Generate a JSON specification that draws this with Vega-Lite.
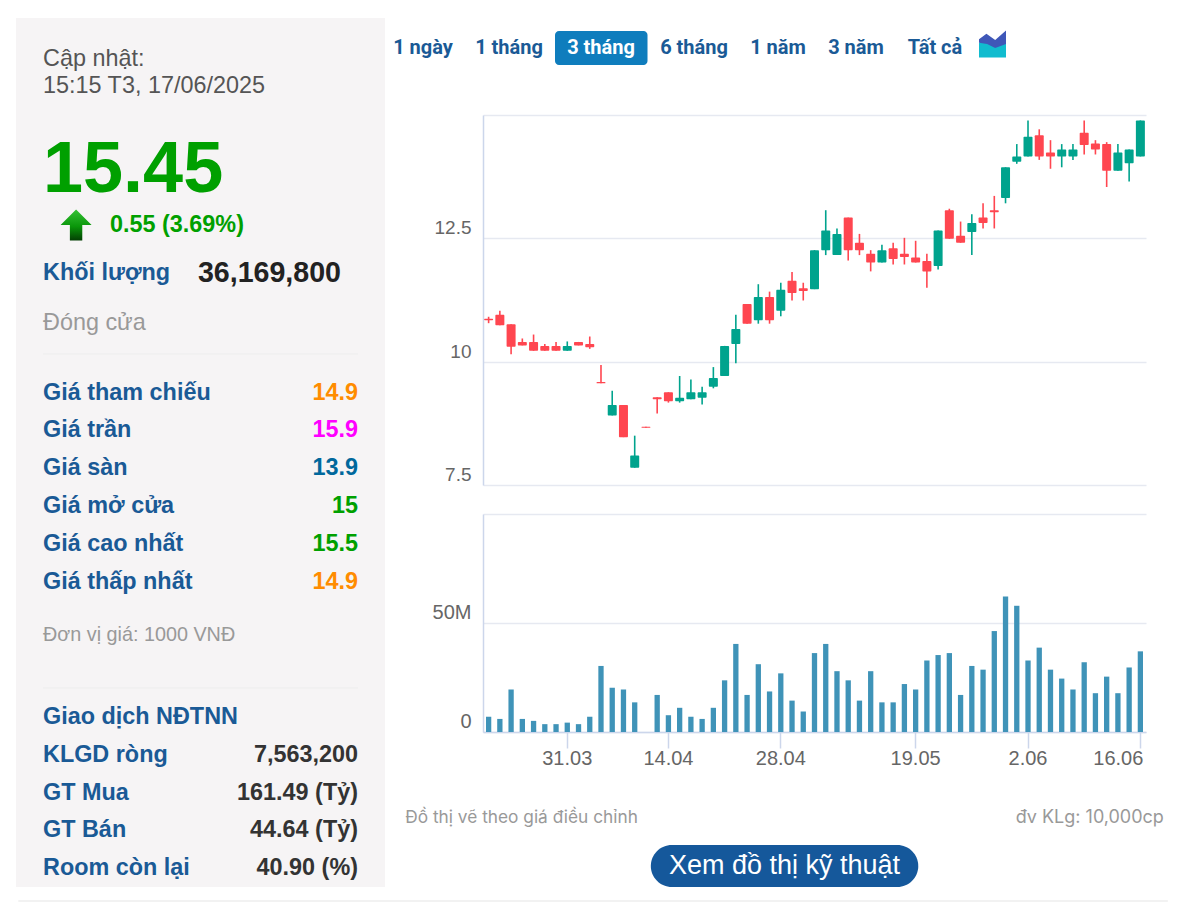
{
"$schema":"https://vega.github.io/schema/vega-lite/v6.json",
"padding":{"left":16,"top":18,"right":0,"bottom":0},
"background":"white",
"bounds":"flush",
"spacing":98,
"config":{"view":{"stroke":null},"font":"Liberation Sans"},
"datasets":{
"candles":[
{"d":"20.03","o":10.87,"c":10.84,"h":10.91,"l":10.78,"v":7.0},
{"d":"21.03","o":10.95,"c":10.74,"h":11.03,"l":10.74,"v":6.0},
{"d":"24.03","o":10.76,"c":10.30,"h":10.76,"l":10.15,"v":19.5},
{"d":"25.03","o":10.40,"c":10.33,"h":10.47,"l":10.33,"v":6.0},
{"d":"26.03","o":10.40,"c":10.22,"h":10.55,"l":10.22,"v":5.1},
{"d":"27.03","o":10.32,"c":10.22,"h":10.36,"l":10.22,"v":3.6},
{"d":"28.03","o":10.32,"c":10.22,"h":10.40,"l":10.22,"v":3.6},
{"d":"31.03","o":10.22,"c":10.32,"h":10.41,"l":10.22,"v":4.3},
{"d":"1.04","o":10.40,"c":10.33,"h":10.40,"l":10.33,"v":3.6},
{"d":"2.04","o":10.36,"c":10.29,"h":10.51,"l":10.26,"v":7.0},
{"d":"3.04","o":9.59,"c":9.56,"h":9.93,"l":9.56,"v":30.3},
{"d":"4.04","o":8.91,"c":9.12,"h":9.41,"l":8.91,"v":20.3},
{"d":"8.04","o":9.12,"c":8.47,"h":9.12,"l":8.47,"v":19.5},
{"d":"9.04","o":7.85,"c":8.10,"h":8.50,"l":7.85,"v":13.6},
{"d":"10.04","o":8.68,"c":8.66,"h":8.68,"l":8.66,"v":0},
{"d":"11.04","o":9.28,"c":9.24,"h":9.28,"l":8.95,"v":17.0},
{"d":"14.04","o":9.38,"c":9.20,"h":9.38,"l":9.17,"v":7.7},
{"d":"15.04","o":9.20,"c":9.27,"h":9.71,"l":9.17,"v":11.1},
{"d":"16.04","o":9.24,"c":9.38,"h":9.64,"l":9.24,"v":7.0},
{"d":"17.04","o":9.27,"c":9.38,"h":9.49,"l":9.13,"v":6.0},
{"d":"18.04","o":9.49,"c":9.67,"h":9.89,"l":9.46,"v":11.1},
{"d":"21.04","o":9.71,"c":10.32,"h":10.32,"l":9.71,"v":23.7},
{"d":"22.04","o":10.36,"c":10.66,"h":10.95,"l":9.97,"v":40.4},
{"d":"23.04","o":11.17,"c":10.77,"h":11.17,"l":10.77,"v":17.0},
{"d":"24.04","o":10.84,"c":11.31,"h":11.57,"l":10.77,"v":31.1},
{"d":"25.04","o":11.31,"c":10.84,"h":11.42,"l":10.77,"v":18.6},
{"d":"28.04","o":11.03,"c":11.46,"h":11.60,"l":10.92,"v":26.9},
{"d":"29.04","o":11.64,"c":11.39,"h":11.82,"l":11.24,"v":14.4},
{"d":"5.05","o":11.49,"c":11.43,"h":11.60,"l":11.24,"v":9.4},
{"d":"6.05","o":11.47,"c":12.26,"h":12.26,"l":11.47,"v":36.2},
{"d":"7.05","o":12.26,"c":12.66,"h":13.07,"l":12.16,"v":40.4},
{"d":"8.05","o":12.16,"c":12.59,"h":12.70,"l":12.16,"v":27.9},
{"d":"9.05","o":12.92,"c":12.26,"h":12.92,"l":12.05,"v":23.7},
{"d":"12.05","o":12.41,"c":12.26,"h":12.59,"l":12.16,"v":14.4},
{"d":"13.05","o":12.19,"c":12.01,"h":12.26,"l":11.83,"v":27.9},
{"d":"14.05","o":12.01,"c":12.26,"h":12.37,"l":12.01,"v":13.6},
{"d":"15.05","o":12.30,"c":12.08,"h":12.41,"l":11.97,"v":13.6},
{"d":"16.05","o":12.19,"c":12.12,"h":12.51,"l":11.97,"v":22.0},
{"d":"19.05","o":12.11,"c":12.01,"h":12.45,"l":12.01,"v":19.5},
{"d":"20.05","o":12.04,"c":11.83,"h":12.19,"l":11.50,"v":32.8},
{"d":"21.05","o":11.94,"c":12.66,"h":12.66,"l":11.87,"v":35.3},
{"d":"22.05","o":13.07,"c":12.49,"h":13.10,"l":12.49,"v":36.2},
{"d":"23.05","o":12.55,"c":12.41,"h":12.84,"l":12.41,"v":17.0},
{"d":"26.05","o":12.63,"c":12.81,"h":12.99,"l":12.16,"v":30.3},
{"d":"27.05","o":12.92,"c":12.81,"h":13.21,"l":12.70,"v":28.6},
{"d":"28.05","o":13.07,"c":13.03,"h":13.36,"l":12.70,"v":46.3},
{"d":"29.05","o":13.32,"c":13.94,"h":13.94,"l":13.21,"v":62.1},
{"d":"30.05","o":14.05,"c":14.16,"h":14.41,"l":14.01,"v":57.9},
{"d":"2.06","o":14.16,"c":14.56,"h":14.89,"l":14.16,"v":32.8},
{"d":"3.06","o":14.59,"c":14.16,"h":14.71,"l":14.09,"v":38.7},
{"d":"4.06","o":14.24,"c":14.16,"h":14.49,"l":13.91,"v":28.6},
{"d":"5.06","o":14.16,"c":14.30,"h":14.41,"l":13.94,"v":24.5},
{"d":"6.06","o":14.16,"c":14.30,"h":14.41,"l":14.09,"v":19.5},
{"d":"9.06","o":14.64,"c":14.39,"h":14.89,"l":14.20,"v":32.0},
{"d":"10.06","o":14.42,"c":14.30,"h":14.49,"l":14.20,"v":17.8},
{"d":"11.06","o":14.41,"c":13.87,"h":14.45,"l":13.54,"v":25.4},
{"d":"12.06","o":13.87,"c":14.24,"h":14.41,"l":13.87,"v":17.8},
{"d":"13.06","o":14.02,"c":14.30,"h":14.30,"l":13.65,"v":29.6},
{"d":"16.06","o":14.16,"c":14.89,"h":14.89,"l":14.16,"v":37.0}
]
},
"hconcat":[
{
"width":369,"height":869,
"view":{"fill":"#f6f4f5","stroke":null},
"encoding":{
"y":{"field":"rank","type":"quantitative","axis":null,"scale":{"domain":[1,2,3,4,5,6,7,8,9,10,11,12,13,14,15,16,17,18,19,20],"range":[41,68,152,207,255,305,336,375,412,450,488,526,564,617,670,699,737,775,812,850]}}
},
"layer":[
{"data":{"values":[{"rank":7},{"rank":15}]},
 "mark":{"type":"rule","color":"#ededed","strokeWidth":1},
 "encoding":{"x":{"datum":0,"type":"quantitative","axis":null,"scale":{"domain":[0,1],"range":[27,342]}},"x2":{"datum":1}}},
{"data":{"values":[{"rank":5,"t":"Khối lượng"},{"rank":8,"t":"Giá tham chiếu"},{"rank":9,"t":"Giá trần"},{"rank":10,"t":"Giá sàn"},{"rank":11,"t":"Giá mở cửa"},{"rank":12,"t":"Giá cao nhất"},{"rank":13,"t":"Giá thấp nhất"},{"rank":16,"t":"Giao dịch NĐTNN"},{"rank":17,"t":"KLGD ròng"},{"rank":18,"t":"GT Mua"},{"rank":19,"t":"GT Bán"},{"rank":20,"t":"Room còn lại"}]},
 "mark":{"type":"text","align":"left","baseline":"middle","fontSize":23.4,"fontWeight":"bold","color":"#1a5a96"},
 "encoding":{"x":{"datum":0,"type":"quantitative","axis":null,"scale":{"domain":[0,1],"range":[27,342]}},"text":{"field":"t"}}},
{"data":{"values":[{"rank":8,"t":"14.9","tone":"ref"},{"rank":9,"t":"15.9","tone":"ceil"},{"rank":10,"t":"13.9","tone":"floor"},{"rank":11,"t":"15","tone":"up"},{"rank":12,"t":"15.5","tone":"up"},{"rank":13,"t":"14.9","tone":"ref"},{"rank":17,"t":"7,563,200","tone":"plain"},{"rank":18,"t":"161.49 (Tỷ)","tone":"plain"},{"rank":19,"t":"44.64 (Tỷ)","tone":"plain"},{"rank":20,"t":"40.90 (%)","tone":"plain"}]},
 "mark":{"type":"text","align":"right","baseline":"middle","fontSize":23.4,"fontWeight":"bold"},
 "encoding":{"x":{"datum":1,"type":"quantitative","axis":null,"scale":{"domain":[0,1],"range":[27,342]}},"text":{"field":"t"},
  "color":{"field":"tone","type":"nominal","legend":null,"scale":{"domain":["ref","ceil","floor","up","plain"],"range":["#ff8c00","#ff00ff","#00689c","#00a000","#333333"]}}}},
{"data":{"values":[{"rank":5,"t":"36,169,800"}]},
 "mark":{"type":"text","align":"right","baseline":"middle","fontSize":28.6,"fontWeight":"bold","color":"#222222","dx":-17},
 "encoding":{"x":{"datum":1,"type":"quantitative","axis":null,"scale":{"domain":[0,1],"range":[27,342]}},"text":{"field":"t"}}},
{"data":{"values":[{"rank":1,"t":"Cập nhật:"},{"rank":2,"t":"15:15 T3, 17/06/2025"}]},
 "mark":{"type":"text","align":"left","baseline":"middle","fontSize":23.4,"color":"#555555"},
 "encoding":{"x":{"datum":0,"type":"quantitative","axis":null,"scale":{"domain":[0,1],"range":[27,342]}},"text":{"field":"t"}}},
{"data":{"values":[{"rank":6,"t":"Đóng cửa"}]},
 "mark":{"type":"text","align":"left","baseline":"middle","fontSize":23.4,"color":"#999999"},
 "encoding":{"x":{"datum":0,"type":"quantitative","axis":null,"scale":{"domain":[0,1],"range":[27,342]}},"text":{"field":"t"}}},
{"data":{"values":[{"rank":14,"t":"Đơn vị giá: 1000 VNĐ"}]},
 "mark":{"type":"text","align":"left","baseline":"middle","fontSize":19.8,"color":"#999999"},
 "encoding":{"x":{"datum":0,"type":"quantitative","axis":null,"scale":{"domain":[0,1],"range":[27,342]}},"text":{"field":"t"}}},
{"data":{"values":[{"rank":3,"t":"15.45"}]},
 "mark":{"type":"text","align":"left","baseline":"middle","fontSize":72,"fontWeight":"bold","color":"#00a000"},
 "encoding":{"x":{"datum":0,"type":"quantitative","axis":null,"scale":{"domain":[0,1],"range":[27,342]}},"text":{"field":"t"}}},
{"data":{"values":[{"rank":4,"t":"0.55 (3.69%)"}]},
 "mark":{"type":"text","align":"left","baseline":"middle","fontSize":23.4,"fontWeight":"bold","color":"#00a000"},
 "encoding":{"x":{"datum":0.2127,"type":"quantitative","axis":null,"scale":{"domain":[0,1],"range":[27,342]}},"text":{"field":"t"}}},
{"data":{"values":[{"rank":4}]},
 "mark":{"type":"point","filled":true,"opacity":1,"size":961,"strokeWidth":0,
  "shape":"M0,-1 L1,0 L0.4,0 L0.4,1 L-0.4,1 L-0.4,0 L-1,0 Z",
  "fill":{"gradient":"linear","x1":0,"y1":0,"x2":0,"y2":1,"stops":[{"offset":0,"color":"#35c235"},{"offset":0.55,"color":"#0a960a"},{"offset":1,"color":"#033f03"}]}},
 "encoding":{"x":{"datum":0.105,"type":"quantitative","axis":null,"scale":{"domain":[0,1],"range":[27,342]}}}}
]
},
{
"bounds":"flush",
"spacing":0,
"vconcat":[
{
"width":663,"height":97,
"encoding":{
"y":{"datum":0.31,"type":"quantitative","axis":null,"scale":{"domain":[0,1],"range":[0,97]}}
},
"layer":[
{"data":{"values":[{"tab":2.5,"tab_end":3.5}]},
 "mark":{"type":"rect","color":"#0f7dbd","cornerRadius":4},
 "encoding":{
  "x":{"field":"tab","type":"quantitative","axis":null,"scale":{"domain":[1,2,3,4,5,6,7,8],"range":[-60,26,118,211,295,373,452,509.5]}},
  "x2":{"field":"tab_end"},
  "y":{"datum":0.134,"type":"quantitative"},"y2":{"datum":0.485}}},
{"data":{"values":[{"tab":1,"t":"1 ngày","sel":"n"},{"tab":2,"t":"1 tháng","sel":"n"},{"tab":3,"t":"3 tháng","sel":"y"},{"tab":4,"t":"6 tháng","sel":"n"},{"tab":5,"t":"1 năm","sel":"n"},{"tab":6,"t":"3 năm","sel":"n"},{"tab":7,"t":"Tất cả","sel":"n"}]},
 "mark":{"type":"text","font":"Roboto","fontWeight":"bold","fontSize":20,"baseline":"middle"},
 "encoding":{
  "x":{"field":"tab","type":"quantitative","axis":null,"scale":{"domain":[1,2,3,4,5,6,7,8],"range":[-60,26,118,211,295,373,452,509.5]}},
  "text":{"field":"t"},
  "color":{"condition":{"test":"datum.sel=='y'","value":"#ffffff"},"value":"#1a5a96"}}},
{"data":{"values":[{"tab":8}]},
 "mark":{"type":"point","filled":true,"opacity":1,"size":729,"strokeWidth":0,"fill":"#11bccf",
  "shape":"M-1,-0.1 L-0.4,-0.1 L0.2,0.25 L1,-0.1 L1,1 L-1,1 Z"},
 "encoding":{
  "x":{"field":"tab","type":"quantitative","axis":null,"scale":{"domain":[1,2,3,4,5,6,7,8],"range":[-60,26,118,211,295,373,452,509.5]}},
  "y":{"datum":0.268,"type":"quantitative"}}},
{"data":{"values":[{"tab":8}]},
 "mark":{"type":"point","filled":true,"opacity":1,"size":729,"strokeWidth":0,"fill":"#3f57b8",
  "shape":"M-1,-0.1 L-1,-0.35 L-0.45,-0.75 L0.2,-0.3 L1,-1 L1,0 L0.2,0.3 L-0.4,0 Z"},
 "encoding":{
  "x":{"field":"tab","type":"quantitative","axis":null,"scale":{"domain":[1,2,3,4,5,6,7,8],"range":[-60,26,118,211,295,373,452,509.5]}},
  "y":{"datum":0.268,"type":"quantitative"}}}
]
},
{
"width":663,"height":399,
"data":{"name":"candles"},
"encoding":{
 "x":{"field":"d","type":"nominal","sort":null,"axis":null,"scale":{"type":"band","paddingInner":0,"paddingOuter":0}},
 "color":{"condition":{"test":"datum.c>=datum.o","value":"#00a38d"},"value":"#ff4650"}
},
"layer":[
{"mark":{"type":"rule","strokeWidth":1.6},
 "encoding":{
  "y":{"field":"l","type":"quantitative","scale":{"domain":[7.5,15],"range":[370,0],"nice":false},
   "axis":{"title":null,"values":[7.5,10,12.5,15],"grid":true,"gridColor":"#e6e9f1","gridWidth":1.5,"ticks":false,"domain":true,"domainColor":"#ccd6eb","domainWidth":1.5,"labelExpr":"datum.value==15?'':(datum.value==10?'10':format(datum.value,'.1f'))","labelFontSize":19,"labelColor":"#666666","labelPadding":12,"labelOffset":-10.5,"labelBaseline":"middle","zindex":0}},
  "y2":{"field":"h"}}},
{"mark":{"type":"bar","width":9,"cornerRadius":1},
 "encoding":{
  "y":{"field":"o","type":"quantitative"},
  "y2":{"field":"c"}}}
]
},
{
"width":663,"height":218,
"data":{"name":"candles"},
"mark":{"type":"bar","width":5.3,"color":"#3f93b8"},
"encoding":{
 "x":{"field":"d","type":"nominal","sort":null,"title":null,"scale":{"type":"band","paddingInner":0,"paddingOuter":0},
  "axis":{"values":["31.03","14.04","28.04","19.05","2.06","16.06"],"labelAngle":0,"labelFontSize":20,"labelColor":"#666666","labelPadding":0,"tickSize":16,"tickColor":"#ccd6eb","tickWidth":1.5,"domainColor":"#ccd6eb","domainWidth":1.5,"labelAlign":{"condition":{"test":"datum.value=='16.06'","value":"right"},"value":"center"},"labelOffset":{"condition":{"test":"datum.value=='16.06'","value":3},"value":0},"labelOverlap":false,"labelBound":false,"labelFlush":false}},
 "y":{"field":"v","type":"quantitative","scale":{"domain":[0,100],"range":[218,0],"nice":false},
  "axis":{"title":null,"values":[0,50,100],"grid":true,"gridColor":"#e6e9f1","gridWidth":1.5,"ticks":false,"domain":true,"domainColor":"#ccd6eb","domainWidth":1.5,"labelExpr":"datum.value==100?'':(datum.value==50?'50M':'0')","labelFontSize":20,"labelColor":"#666666","labelPadding":12,"labelOffset":-10.5,"labelBaseline":"middle","zindex":0}}
}
},
{
"width":663,"height":170,
"encoding":{"y":{"datum":0.506,"type":"quantitative","axis":null,"scale":{"domain":[0,1],"range":[0,170]}}},
"layer":[
{"data":{"values":[{"t":"Đồ thị vẽ theo giá điều chỉnh"}]},
 "mark":{"type":"text","align":"left","baseline":"middle","font":"Inter","fontSize":17.3,"color":"#999999"},
 "encoding":{"x":{"datum":-0.119,"type":"quantitative","axis":null,"scale":{"domain":[0,1],"range":[1,663]}},"text":{"field":"t"}}},
{"data":{"values":[{"t":"đv KLg: 10,000cp"}]},
 "mark":{"type":"text","align":"right","baseline":"middle","font":"Inter","fontSize":18,"color":"#999999"},
 "encoding":{"x":{"datum":1.027,"type":"quantitative","axis":null,"scale":{"domain":[0,1],"range":[1,663]}},"text":{"field":"t"}}},
{"data":{"values":[{"t":"Xem đồ thị kỹ thuật"}]},
 "mark":{"type":"rect","color":"#15589b","cornerRadius":21},
 "encoding":{"x":{"datum":0.252,"type":"quantitative","axis":null,"scale":{"domain":[0,1],"range":[1,663]}},"x2":{"datum":0.656},"y":{"datum":0.665,"type":"quantitative"},"y2":{"datum":0.912}}},
{"data":{"values":[{"t":"Xem đồ thị kỹ thuật"}]},
 "mark":{"type":"text","align":"center","baseline":"middle","fontSize":27,"color":"#ffffff"},
 "encoding":{"x":{"datum":0.454,"type":"quantitative","axis":null,"scale":{"domain":[0,1],"range":[1,663]}},"y":{"datum":0.788,"type":"quantitative"},"text":{"field":"t"}}},
{"data":{"values":[{"t":"line"}]},
 "mark":{"type":"rule","color":"#eeeeee","strokeWidth":1.5},
 "encoding":{"x":{"datum":-0.7035,"type":"quantitative","axis":null,"scale":{"domain":[0,1],"range":[1,663]}},"x2":{"datum":1.033},"y":{"datum":0.994,"type":"quantitative"}}}
]
}
]
}
]
}
